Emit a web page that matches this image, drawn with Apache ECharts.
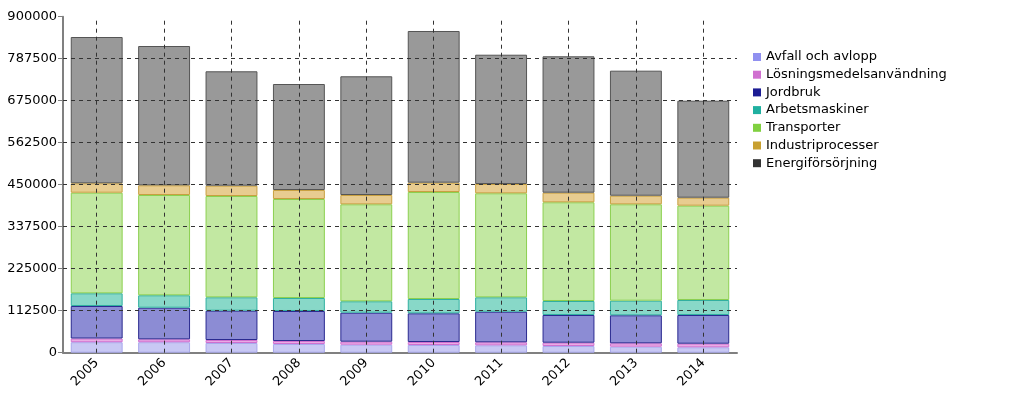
<!doctype html>
<html lang="sv">
  <head>
    <meta charset="utf-8">
    <title>Utsläpp per sektor</title>
    <script type="text/javascript" src="https://cdn.jsdelivr.net/npm/echarts@6/dist/echarts.min.js"></script>
    <style>
      html, body { margin: 0; padding: 0; background: #fff; }
      #container { width: 1024px; height: 410px; }
    </style>
  </head>
  <body>
    <div id="container"></div>
    <script type="text/javascript">
      // years on the x axis
      var years = ['2005', '2006', '2007', '2008', '2009', '2010', '2011', '2012', '2013', '2014'];

      // values per sector (stacked bottom -> top)
      var avfall    = [28100, 28000, 26000, 23300, 21400, 20600, 19800, 17900, 16100, 14500];
      var losning   = [9900, 7900, 8000, 8000, 8100, 8100, 8100, 8900, 9100, 9600];
      var jordbruk  = [87100, 84600, 78500, 80400, 77600, 76800, 81900, 74200, 75000, 76900];
      var arbets    = [34000, 33300, 35900, 34800, 30600, 38300, 38600, 37500, 39100, 40200];
      var transport = [269500, 268600, 271300, 265200, 259800, 286600, 278600, 264400, 258200, 252600];
      var industri  = [25200, 26000, 27600, 24100, 24900, 25000, 24900, 25700, 23000, 21400];
      var energi    = [391800, 373100, 306500, 283900, 318000, 406300, 346300, 365300, 334900, 259800];

      // inner y ticks that get a dashed grid line
      var gridValues = [112500, 225000, 337500, 450000, 562500, 675000, 787500];

      var names = ['Avfall och avlopp', 'Lösningsmedelsanvändning', 'Jordbruk', 'Arbetsmaskiner',
                   'Transporter', 'Industriprocesser', 'Energiförsörjning'];
      var values = [avfall, losning, jordbruk, arbets, transport, industri, energi];

      // legend colour, bar fill, bar border
      var legendColors = ['#9090f0', '#d070d0', '#1c1c94', '#20b0a0', '#80d040', '#c8a030', '#333333'];
      var fills   = ['#c8c8f4', '#e8ace4', '#8c8cd4', '#88d8c8', '#c2e8a2', '#e8cc90', '#999999'];
      var borders = ['#a8a8ec', '#d070d0', '#2a2a90', '#30b0a0', '#8cd050', '#c8a040', '#555555'];

      var dom = document.getElementById('container');
      var myChart = echarts.init(dom);

      var series = names.map(function (n, i) {
        return {
          name: n,
          type: 'bar',
          stack: 'total',
          barCategoryGap: '23%',
          itemStyle: { color: fills[i], borderColor: borders[i], borderWidth: 1 },
          data: values[i]
        };
      });

      // dashed grid lines, drawn over the bars like in the original
      var lines = years.map(function (y) { return { xAxis: y }; })
        .concat(gridValues.map(function (v) { return { yAxis: v }; }));
      series.push({
        name: 'grid',
        type: 'line',
        data: [],
        z: 10,
        silent: true,
        markLine: {
          silent: true,
          symbol: 'none',
          label: { show: false },
          lineStyle: { type: [4, 4], color: '#333', width: 1 },
          data: lines
        }
      });

      var option = {
        animation: false,
        textStyle: { fontFamily: 'DejaVu Sans', color: '#000' },
        grid: { left: 63, right: 287, top: 16.7, bottom: 57.3 },
        legend: {
          orient: 'vertical',
          left: 748,
          top: 45,
          icon: 'rect',
          itemWidth: 8,
          itemHeight: 8,
          itemGap: 3.7,
          textStyle: { fontSize: 13, color: '#000', lineHeight: 14, fontFamily: 'DejaVu Sans' },
          data: names.map(function (n, i) {
            return { name: n, itemStyle: { color: legendColors[i], borderWidth: 0 } };
          })
        },
        xAxis: {
          type: 'category',
          data: years,
          axisLine: { lineStyle: { color: '#808080', width: 2 } },
          axisTick: { alignWithLabel: true, length: 9, lineStyle: { type: [4, 4], color: '#333' } },
          axisLabel: { rotate: 45, fontSize: 13, color: '#000', margin: 8 }
        },
        yAxis: {
          type: 'value',
          min: 0,
          max: 900000,
          interval: 112500,
          axisLine: { show: true, lineStyle: { color: '#808080', width: 2 } },
          axisTick: { show: true, length: 5, lineStyle: { color: '#808080' } },
          axisLabel: { fontSize: 13, color: '#000', margin: 6, formatter: function (v) { return String(v); } },
          splitLine: { show: false }
        },
        series: series
      };

      myChart.setOption(option);
    </script>
  </body>
</html>
